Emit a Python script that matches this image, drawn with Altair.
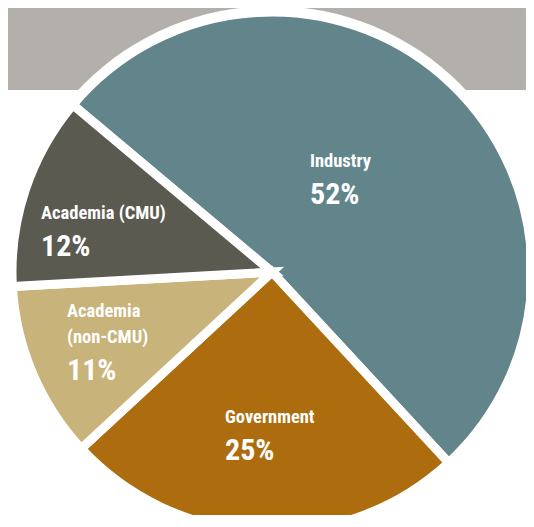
import math
import altair as alt
import pandas as pd

# ---- data ----
categories = ["Industry", "Government", "Academia (non-CMU)", "Academia (CMU)"]
shares = [52, 25, 11, 12]
name_lines = [["Industry"], ["Government"], ["Academia", "(non-CMU)"], ["Academia (CMU)"]]

# ---- styling / layout ----
colors = ["#62858c", "#ad6d0e", "#c8b37a", "#5a5a51"]
band_color = "#b3afab"
FONT = "Liberation Sans Narrow, Roboto Condensed, Roboto, sans-serif"
W, H = 518, 507
CX, CY = 264, 264
R = 260
START = math.radians(310)
label_anchor = {
    "Industry": (302, 159),
    "Government": (217, 415),
    "Academia (non-CMU)": (59, 309),
    "Academia (CMU)": (33, 211),
}

df = pd.DataFrame({"category": categories, "share": shares, "order": list(range(len(categories)))})

rows = []
for cat, share, lines in zip(categories, shares, name_lines):
    x0, y0 = label_anchor[cat]
    for i, line in enumerate(lines):
        rows.append({"x": x0, "y": y0 + 26 * i, "text": line, "size": 18.5})
    rows.append({"x": x0, "y": y0 + 26 * (len(lines) - 1) + 37, "text": f"{share}%", "size": 30})
labels = pd.DataFrame(rows)

one = pd.DataFrame({"a": [0]})

band = alt.Chart(one).mark_rect(color=band_color).encode(
    x=alt.value(0), x2=alt.value(W), y=alt.value(0), y2=alt.value(82)
)

disc = alt.Chart(one).mark_arc(radius=R + 6, theta=0, theta2=2 * math.pi, color="white").encode(
    x=alt.value(CX), y=alt.value(CY)
)

pie = alt.Chart(df).mark_arc(radius=R, stroke="white", strokeWidth=9).encode(
    theta=alt.Theta("share:Q", stack=True, scale=alt.Scale(domain=[0, 100], range=[START, START + 2 * math.pi])),
    color=alt.Color("category:N", scale=alt.Scale(domain=categories, range=colors), legend=None),
    order=alt.Order("order:Q"),
    x=alt.value(CX),
    y=alt.value(CY),
)

text = alt.Chart(labels).mark_text(
    align="left", baseline="alphabetic", fontWeight="bold", font=FONT, color="white"
).encode(
    x=alt.X("x:Q", scale=None, axis=None),
    y=alt.Y("y:Q", scale=None, axis=None),
    text="text:N",
    size=alt.Size("size:Q", scale=None, legend=None),
)

chart = alt.layer(band, disc, pie, text).properties(
    width=W, height=H, padding=0, autosize="none"
).configure_view(stroke=None)

chart.save("out.html", embed_options={"renderer": "svg", "actions": False})
